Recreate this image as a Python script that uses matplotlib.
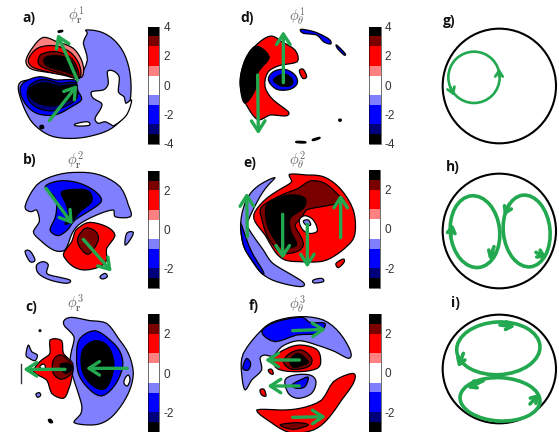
import numpy as np
import matplotlib
matplotlib.use('Agg')
import matplotlib.pyplot as plt
from matplotlib.cm import ScalarMappable
from matplotlib.colors import BoundaryNorm, ListedColormap
from matplotlib.patches import Ellipse, Polygon

plt.rcParams['font.family'] = ['Liberation Sans', 'DejaVu Sans']
plt.rcParams['mathtext.fontset'] = 'cm'

# contour levels of the colour bars
levels_4 = [-4, -10/3, -8/3, -4/3, -2/3, 2/3, 4/3, 8/3, 10/3, 4]
levels_3 = [-3, -2.5, -2, -1, -0.5, 0.5, 1, 2, 2.5, 3]
ticks_4 = [4, 2, 0, -2, -4]
ticks_3 = [2, 0, -2]
bar_colors = ['#000000', '#00007a', '#0000ff', '#8080ff', '#ffffff',
              '#ff8080', '#ff0000', '#7a0000', '#000000']
green = '#22a84f'

# contour outlines, (value, outline)
layers_a = [
    (-1, [(258,90),(300,95),(340,118),(372,160),(390,220),(392,290),(375,345),(335,385),(285,405),(225,415),(160,410),(115,385),(85,350),(60,290),(58,250),(100,240),(200,250),(235,235),(262,180),(250,130),(262,100)]),
    (0, [(322,215),(340,213),(358,232),(355,275),(372,290),(378,310),(395,300),(380,345),(345,375),(335,375),(315,365),(295,370),(285,355),(300,330),(305,310),(280,295),(275,275),(310,270),(325,250)]),
    (0, [(225,372),(262,365),(268,376),(232,378)]),
    (1, [(130,112),(170,125),(220,145),(248,190),(245,232),(200,225),(130,215),(90,205),(78,180),(100,140)]),
    (2, [(125,140),(170,138),(215,160),(240,200),(238,235),(200,228),(130,212),(95,200),(85,180),(100,155)]),
    (3, [(130,160),(170,155),(215,175),(235,215),(232,235),(190,222),(135,205),(115,190),(118,170)]),
    (3.7, [(140,170),(180,168),(215,185),(230,225),(195,215),(145,200),(132,185)]),
    (-2, [(75,245),(120,230),(170,240),(225,240),(232,270),(245,298),(215,320),(165,345),(110,340),(75,310),(60,270)]),
    (-3, [(88,258),(130,238),(180,250),(225,248),(232,290),(210,312),(160,332),(115,325),(85,298)]),
    (-3.7, [(90,265),(130,248),(180,258),(225,255),(230,290),(200,305),(160,318),(115,310),(90,290)]),
    (-3.7, [(120,378),(128,376),(131,384),(122,386)]),
    (-3.7, [(175,93),(187,91),(187,95),(176,97)]),
]
layers_b = [
    (-1, [(75,185),(110,120),(170,90),(235,82),(300,90),(360,125),(385,180),(392,215),(345,215),(340,195),(290,210),(235,240),(212,275),(195,315),(160,315),(120,285),(100,260),(118,230),(110,195),(95,200)]),
    (-2, [(135,125),(175,108),(230,112),(280,135),(305,165),(280,190),(225,225),(205,252),(175,272),(150,255),(165,220),(170,180),(160,150)]),
    (-2.8, [(185,140),(235,133),(268,140),(275,170),(240,200),(220,225),(195,238),(205,205),(195,170)]),
    (1.5, [(240,245),(270,232),(320,245),(345,272),(320,310),(320,345),(300,365),(255,375),(220,365),(195,340),(192,322),(215,290),(225,260)]),
    (2.25, [(232,285),(255,250),(285,258),(295,285),(270,325),(250,320)]),
    (-1, [(110,360),(130,350),(145,360),(140,385),(170,395),(210,405),(200,415),(150,405),(115,385)]),
    (-1, [(75,320),(90,318),(105,345),(90,350)]),
    (-1, [(300,395),(315,385),(322,395),(308,402)]),
    (-1, [(380,265),(400,262),(390,285),(375,300)]),
]
layers_c = [
    (-1, [(192,92),(215,82),(270,92),(320,100),(355,145),(385,190),(400,250),(385,310),(350,365),(315,395),(275,405),(222,398),(240,375),(245,345),(225,280),(210,225),(215,180),(222,140),(195,110)]),
    (-1.5, [(240,145),(285,122),(330,150),(360,185),(368,230),(345,285),(305,318),(265,295),(235,250),(230,190)]),
    (-2.8, [(248,180),(285,152),(325,170),(342,225),(325,285),(300,298),(265,275),(245,235)]),
    (0, [(375,265),(385,255),(390,270),(382,288),(372,280)]),
    (1.5, [(150,150),(185,152),(190,190),(218,220),(215,265),(205,300),(190,325),(155,310),(140,270),(100,245),(125,210),(150,190)]),
    (2.25, [(160,210),(185,195),(215,225),(215,250),(185,268),(160,250)]),
    (2.8, [(180,225),(205,220),(215,238),(195,250)]),
    (0, [(120,228),(132,222),(136,234),(124,236)]),
    (-1, [(85,165),(95,185),(112,195),(105,212),(88,205),(78,195)]),
    (-1, [(108,312),(118,308),(122,316),(113,322)]),
    (-2.8, [(145,390),(152,388),(158,397),(150,398)]),
    (-2.8, [(118,120),(122,120),(122,124),(118,124)]),
]
layers_d = [
    (2, [(185,108),(215,125),(255,150),(262,185),(215,195),(175,215),(165,260),(190,300),(235,335),(225,348),(180,345),(145,360),(115,325),(95,280),(92,230),(110,170),(150,125)]),
    (3.7, [(140,138),(178,172),(145,215),(135,270),(105,310),(92,270),(92,225),(110,170)]),
    (-2, [(175,240),(190,215),(225,208),(255,225),(262,250),(240,268),(200,268)]),
    (-3.7, [(190,240),(220,222),(245,235),(245,255),(215,258)]),
    (2, [(268,212),(280,208),(290,230),(278,235)]),
    (-2, [(272,88),(300,92),(325,100),(358,118),(362,132),(340,125),(320,105),(280,100)]),
    (-2, [(380,135),(405,160),(402,165),(382,145)]),
    (-3.7, [(260,424),(285,425),(285,429),(260,428)]),
    (-3.7, [(308,418),(328,412),(328,416),(310,422)]),
    (-3.7, [(387,358),(393,358),(393,363),(387,363)]),
]
layers_e = [
    (-1, [(195,98),(165,110),(130,135),(105,175),(92,235),(100,300),(125,345),(155,385),(200,410),(270,425),(280,412),(225,378),(185,352),(160,315),(115,250),(115,225),(150,155),(175,120)]),
    (-1.5, [(92,235),(100,300),(125,345),(155,385),(160,380),(130,330),(112,290)]),
    (1.5, [(238,88),(290,90),(340,95),(390,130),(430,195),(435,265),(415,300),(370,335),(330,350),(270,350),(225,345),(195,320),(165,270),(135,230),(135,200),(170,160),(215,130),(245,110)]),
    (2.25, [(155,185),(215,150),(265,130),(300,108),(345,115),(385,150),(400,170),(335,185),(290,195),(275,220),(255,240),(270,270),(280,300),(260,320),(215,325),(190,300),(170,270),(155,220)]),
    (2.8, [(172,175),(240,150),(285,160),(280,190),(240,220),(245,265),(260,300),(220,310),(195,285),(172,240)]),
    (0, [(268,225),(285,212),(310,225),(322,258),(295,265),(275,250)]),
    (-1, [(280,228),(295,225),(302,240),(288,240)]),
    (1.5, [(378,355),(400,342),(402,352),(385,368)]),
    (-1, [(310,405),(335,400),(340,410),(312,414)]),
]
layers_f = [
    (-1, [(100,190),(155,120),(200,92),(270,80),(340,90),(390,130),(422,185),(415,205),(375,185),(320,165),(265,152),(215,170),(190,198),(165,195),(150,205),(155,240),(125,270),(105,300),(95,250)]),
    (-1.5, [(155,125),(200,95),(275,82),(300,98),(345,100),(325,130),(260,135),(195,155)]),
    (-1.5, [(100,225),(110,205),(122,220),(115,240),(100,238)]),
    (1.5, [(190,205),(225,178),(270,165),(320,178),(332,210),(322,235),(270,245),(205,238)]),
    (2.25, [(220,215),(240,190),(275,180),(305,205),(295,230),(245,238)]),
    (2.8, [(240,210),(265,190),(295,215),(280,225),(250,232)]),
    (-1, [(225,270),(255,255),(300,255),(318,275),(305,310),(265,325),(235,310)]),
    (-1.5, [(245,285),(275,268),(295,262),(285,290),(260,295)]),
    (1.5, [(140,360),(210,360),(270,355),(335,330),(370,275),(430,250),(430,280),(395,330),(355,385),(310,420),(240,428),(180,395)]),
    (2.25, [(210,405),(260,398),(295,405),(250,418)]),
    (1.5, [(175,240),(185,238),(190,252),(180,250)]),
    (1.5, [(150,300),(162,298),(168,318),(155,315)]),
]

# green arrows, (tail, head)
arrows_a = [((148,362),(232,255)), ((232,240),(172,102))]
arrows_b = [((138,130),(218,238)), ((250,283),(335,380))]
arrows_c = [((195,238),(70,238)), ((382,235),(258,235))]
arrows_d = [((220,248),(220,93)), ((143,225),(145,403))]
arrows_e = [((218,208),(218,342)), ((292,238),(292,368)), ((392,278),(392,148)), ((112,275),(110,143))]
arrows_f = [((268,210),(165,210)), ((268,288),(172,288)), ((248,122),(348,118)), ((248,382),(348,380))]

# panels: crop box in the figure, letter, symbol, bar position, scale
panels = [
    ('a)', (0,0), (68,55), r'$\phi_{\mathbf{r}}^{\mathbf{1}}$', (228,45), (445,80,478,432), levels_4, ticks_4, layers_a, arrows_a),
    ('b)', (0,145), (68,45), r'$\phi_{\mathbf{r}}^{\mathbf{2}}$', (228,45), (443,78,477,428), levels_3, ticks_3, layers_b, arrows_b),
    ('c)', (0,290), (75,50), r'$\phi_{\mathbf{r}}^{\mathbf{3}}$', (228,40), (445,73,477,425), levels_3, ticks_3, layers_c, arrows_c),
    ('d)', (210,0), (92,55), r'$\phi_{\theta}^{\mathbf{1}}$', (262,48), (478,80,512,432), levels_4, ticks_4, layers_d, arrows_d),
    ('e)', (210,145), (100,55), r'$\phi_{\theta}^{\mathbf{2}}$', (262,45), (476,76,510,428), levels_3, ticks_3, layers_e, arrows_e),
    ('f)', (210,290), (115,48), r'$\phi_{\theta}^{\mathbf{3}}$', (262,42), (478,72,512,425), levels_3, ticks_3, layers_f, arrows_f),
]

# schematics on the right: outer circle and loops, (x, y, width, height, angle)
sketch_g = dict(crop=(430,0), letter=('g)', 38, 62), outer=(208,258,340,344),
                loops=[(132,232,154,154,0)], lw=1.9,
                heads=[((207,228),(207,205)), ((62,262),(72,287))])
sketch_h = dict(crop=(430,145), letter=('h)', 48, 65), outer=(208,258,340,344),
                loops=[(135,260,148,216,-6), (290,258,140,216,-6)], lw=2.6,
                heads=[((62,275),(68,237)), ((192,305),(178,345)),
                       ((238,178),(222,212)), ((318,322),(350,338))])
sketch_i = dict(crop=(430,290), letter=('i)', 62, 40), outer=(208,237,340,326),
                loops=[(205,175,250,158,-3), (210,328,240,130,3)], lw=2.6,
                heads=[((210,105),(255,110)), ((100,190),(85,232)),
                       ((160,272),(112,295)), ((300,342),(328,312))])
sketches = [sketch_g, sketch_h, sketch_i]


def smooth(points, rounds=2):
    # four point subdivision, keeps the read vertices on the outline
    pts = np.array(points, dtype=float)
    for _ in range(rounds):
        prev, nxt, nxt2 = np.roll(pts, 1, axis=0), np.roll(pts, -1, axis=0), np.roll(pts, -2, axis=0)
        mids = 9 / 16 * (pts + nxt) - 1 / 16 * (prev + nxt2)
        pts = np.column_stack([pts, mids]).reshape(-1, 2)
    return pts


def crop_axes(fig, crop, w=190, h=145):
    # axes over a crop of the figure, data units are 1/3 pixel
    x0, y0 = crop
    ax = fig.add_axes([x0 / 559, 1 - (y0 + h) / 432, w / 559, h / 432])
    ax.set_xlim(0, w * 3)
    ax.set_ylim(h * 3, 0)
    ax.axis('off')
    ax.patch.set_alpha(0)
    return ax


def draw_arrow(ax, tail, head, lw, size):
    ax.annotate('', xy=head, xytext=tail,
                arrowprops=dict(arrowstyle=f'->,head_length={size},head_width={size * 0.65}',
                                color=green, lw=lw, shrinkA=0, shrinkB=0))


fig = plt.figure(figsize=(5.59, 4.32), dpi=100)
cmap = ListedColormap(bar_colors)

for letter, crop, letter_pos, symbol, symbol_pos, bar, levels, ticks, layers, arrows in panels:
    ax = crop_axes(fig, crop)
    norm = BoundaryNorm(levels, cmap.N)
    for value, outline in layers:
        ax.add_patch(Polygon(smooth(outline), closed=True, facecolor=cmap(norm(value)),
                             edgecolor='black', linewidth=0.9, joinstyle='round'))
    if letter == 'c)':
        ax.plot([63, 63], [222, 278], color='#334', lw=1)
    for tail, head in arrows:
        draw_arrow(ax, tail, head, 2.4, 0.75)
    ax.text(*letter_pos, letter, fontsize=10, fontweight='bold', va='center', color='#111',
            family='Open Sans')
    ax.text(*symbol_pos, symbol, fontsize=10.5, ha='center', va='center', color='#666')

    # colour bar
    x0, y0, x1, y1 = bar
    cax = fig.add_axes([(crop[0] + x0 / 3) / 559, 1 - (crop[1] + y1 / 3) / 432,
                        (x1 - x0) / 3 / 559, (y1 - y0) / 3 / 432])
    cb = fig.colorbar(ScalarMappable(norm=norm, cmap=cmap), cax=cax, spacing='proportional')
    cb.set_ticks(ticks, labels=[str(t) for t in ticks])
    cb.ax.minorticks_off()
    cb.ax.tick_params(length=0, pad=3, labelsize=8.5, labelcolor='#333')
    cb.outline.set_linewidth(0.4)

for sk in sketches:
    ax = crop_axes(fig, sk['crop'], 129, 145)
    ox, oy, ow, oh = sk['outer']
    ax.add_patch(Ellipse((ox, oy), ow, oh, fill=False, edgecolor='black', linewidth=1.5))
    for x, y, w, h, angle in sk['loops']:
        ax.add_patch(Ellipse((x, y), w, h, angle=angle, fill=False, edgecolor=green, linewidth=sk['lw']))
    for tail, head in sk['heads']:
        draw_arrow(ax, tail, head, sk['lw'], 0.42)
    text, lx, ly = sk['letter']
    ax.text(lx, ly, text, fontsize=10, fontweight='bold', va='center', color='#111', family='Open Sans')

fig.savefig('out.png', dpi=100)
